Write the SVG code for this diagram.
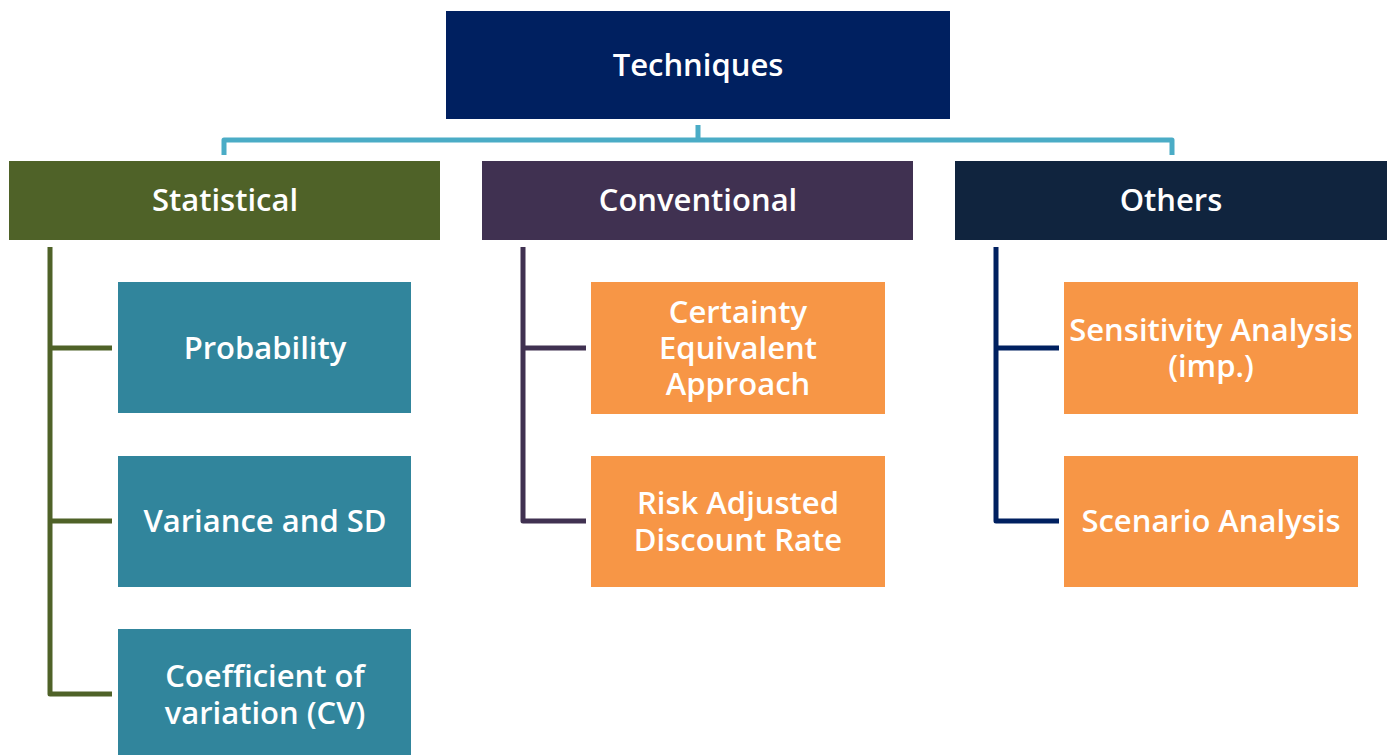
<svg xmlns="http://www.w3.org/2000/svg" width="1392" height="755" viewBox="0 0 1392 755">
<style>
text{font-family:"Open Sans","Liberation Sans",sans-serif;font-weight:600;font-size:31px;fill:#fff;text-anchor:middle}
.c{fill:none;stroke-width:5;stroke-linejoin:round}
</style>
<rect width="1392" height="755" fill="#fff"/>
<g id="connectors">
<path class="c" stroke="#4BACC6" d="M698 125V140M224 155V140H1172V155"/>
<path class="c" stroke="#4F6228" d="M50 247V694H112M50 348H112M50 521H112"/>
<path class="c" stroke="#403151" d="M523 247V521H586M523 348H586"/>
<path class="c" stroke="#002060" d="M996 247V521H1059M996 348H1059"/>
</g>
<g id="techniques"><rect x="446" y="11" width="504" height="108" fill="#002060"/><text x="698" y="76">Techniques</text></g>
<g id="statistical"><rect x="9" y="161" width="431" height="79" fill="#4F6228"/><text x="225" y="211">Statistical</text></g>
<g id="conventional"><rect x="482" y="161" width="431" height="79" fill="#403151"/><text x="698" y="211">Conventional</text></g>
<g id="others"><rect x="955" y="161" width="432" height="79" fill="#10243E"/><text x="1171" y="211">Others</text></g>
<g id="probability"><rect x="118" y="282" width="293" height="131" fill="#31859C"/><text x="265" y="359">Probability</text></g>
<g id="variance"><rect x="118" y="456" width="293" height="131" fill="#31859C"/><text x="265" y="532">Variance and SD</text></g>
<g id="cv"><rect x="118" y="629" width="293" height="130" fill="#31859C"/><text x="265" y="687">Coefficient of</text><text x="265" y="724">variation (CV)</text></g>
<g id="certainty"><rect x="591" y="282" width="294" height="132" fill="#F79646"/><text x="738" y="323">Certainty</text><text x="738" y="359">Equivalent</text><text x="738" y="395">Approach</text></g>
<g id="riskadjusted"><rect x="591" y="456" width="294" height="131" fill="#F79646"/><text x="738" y="514">Risk Adjusted</text><text x="738" y="551">Discount Rate</text></g>
<g id="sensitivity"><rect x="1064" y="282" width="294" height="132" fill="#F79646"/><text x="1211" y="341">Sensitivity Analysis</text><text x="1211" y="377">(imp.)</text></g>
<g id="scenario"><rect x="1064" y="456" width="294" height="131" fill="#F79646"/><text x="1211" y="532">Scenario Analysis</text></g>
</svg>
